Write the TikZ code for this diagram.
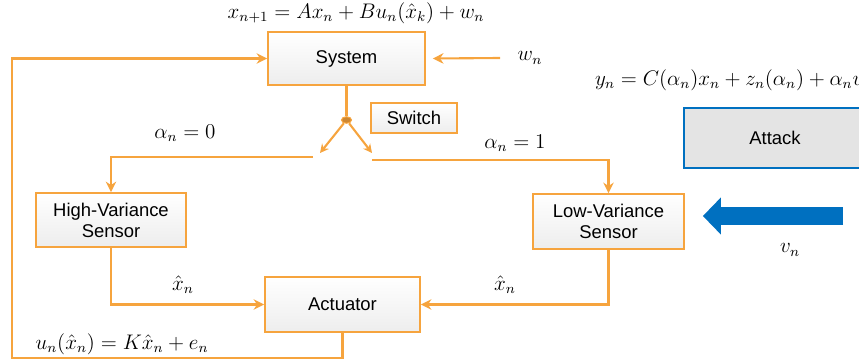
\documentclass[tikz,border=0pt]{standalone}
\usepackage{fontspec}
\setmainfont{Liberation Sans}
\usepackage{amsmath}
\usetikzlibrary{positioning, arrows.meta, shadows, shapes.geometric}
\definecolor{lineorange}{RGB}{246,164,62}
\definecolor{dotbrown}{RGB}{205,135,50}
\definecolor{attackblue}{RGB}{0,112,192}
\definecolor{framegray}{RGB}{228,228,228}

\begin{document}
\begin{tikzpicture}[
        flow/.style={draw=lineorange, line width=1.2pt, -{Stealth[length=6pt,width=6pt]}},
        wire/.style={draw=lineorange, line width=1.2pt},
        block/.style={
            draw=lineorange, line width=1pt,
            top color=white, bottom color=gray!14,
            preaction={draw=white, line width=6pt, drop shadow={shadow xshift=1pt, shadow yshift=-1.2pt, opacity=0.3}},
            font=\fontsize{10.5}{12}\selectfont,
            align=center, inner sep=0pt
        },
        lbl/.style={font=\large, inner sep=1pt}
    ]
        \path[use as bounding box, clip] (0,0) rectangle (17.18,7.24);

        % Blocks
        \node[block, minimum width=3.14cm, minimum height=1.06cm] (sys) at (6.93,6.07) {System};
        \node[block, minimum width=1.72cm, minimum height=0.6cm] (swlbl) at (8.28,4.88) {Switch};
        \node[block, minimum width=3.0cm, minimum height=1.08cm] (hvs) at (2.22,2.84) {High-Variance\\Sensor};
        \node[block, minimum width=3.02cm, minimum height=1.1cm] (lvs) at (12.17,2.81) {Low-Variance\\Sensor};
        \node[block, minimum width=3.1cm, minimum height=1.1cm] (act) at (6.85,1.15) {Actuator};
        \node[block, draw=attackblue, top color=framegray, bottom color=framegray,
              minimum width=3.64cm, minimum height=1.2cm] (att) at (15.5,4.48) {Attack};

        % Switch point
        \node[ellipse, fill=dotbrown, draw=lineorange, line width=0.6pt,
              minimum width=0.2cm, minimum height=0.13cm, inner sep=0pt] (sw) at (6.93,4.84) {};

        % Equations and signal labels
        \node[lbl] (sysEq) at (7.12,6.98) {$x_{n+1} = Ax_n + Bu_n(\hat{x}_k) + w_n$};
        \node[lbl, anchor=west] (measEq) at (11.86,5.64) {$y_n = C(\alpha_n)x_n + z_n(\alpha_n) + \alpha_n v_n$};
        \node[lbl] (wn) at (10.6,6.08) {$w_n$};
        \node[lbl] (alpha0) at (3.7,4.58) {$\alpha_n = 0$};
        \node[lbl] (alpha1) at (10.3,4.38) {$\alpha_n = 1$};
        \node[lbl] (xhatL) at (3.66,1.54) {$\hat{x}_n$};
        \node[lbl] (xhatR) at (10.1,1.54) {$\hat{x}_n$};
        \node[lbl] (ctrlEq) at (2.44,0.36) {$u_n(\hat{x}_n) = K\hat{x}_n + e_n$};
        \node[lbl] (vn) at (15.8,2.24) {$v_n$};

        % Free ends of the switch legs
        \coordinate (swL) at (6.4,4.18);
        \coordinate (swR) at (7.44,4.18);
        \coordinate (legL) at (6.26,4.10);
        \coordinate (legR) at (7.44,4.04);
        \coordinate (win) at (10.0,6.08);
        \coordinate (atk) at (16.86,2.92);

        % System output into the switch
        \draw[wire] (sys.south) -- (sw);
        \draw[flow, -{Stealth[length=5pt,width=5pt]}] (sw) -- (swL);
        \draw[flow, -{Stealth[length=5pt,width=5pt]}] (sw) -- (swR);

        % Switch legs to the sensors
        \draw[flow] (legL) -| (hvs.north);
        \draw[flow] (legR) -| (lvs.north);

        % Sensor estimates to the actuator
        \draw[flow] (hvs.south) |- (act.west);
        \draw[flow] (lvs.south) |- (act.east);

        % Control input back to the system
        \draw[flow] (act.south) -- ++(0,-0.5) -| (0.24,6.07) -- (sys.west);

        % Process noise
        \draw[flow] (win) -- ([xshift=4pt]sys.east);

        % Attack signal
        \draw[attackblue, line width=0.36cm, -{Triangle[length=0.36cm,width=0.72cm]}] (atk) -- ([xshift=0.36cm]atk -| lvs.east);
    \end{tikzpicture}
\end{document}
